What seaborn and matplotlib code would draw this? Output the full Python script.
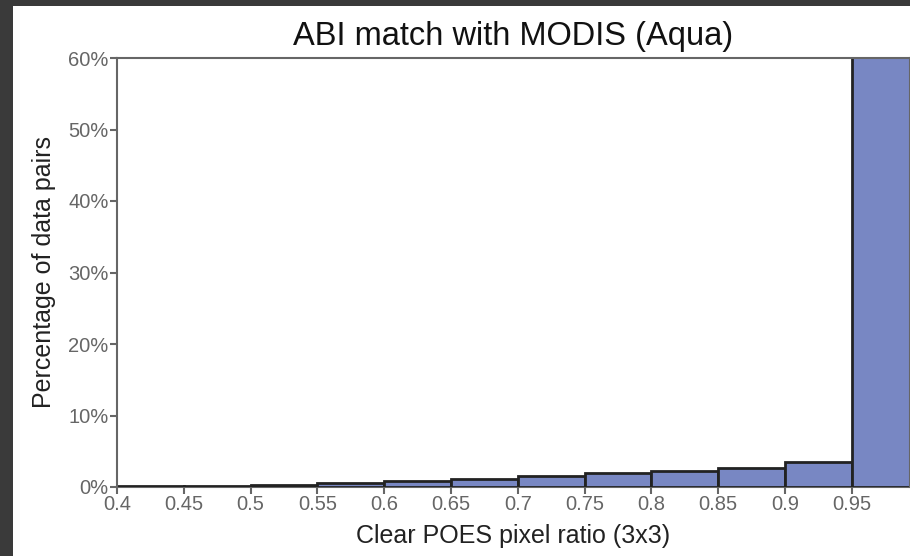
import matplotlib
matplotlib.use("Agg")
import matplotlib.pyplot as plt
import seaborn as sns
import numpy as np
from matplotlib.ticker import FuncFormatter
from matplotlib.patches import Rectangle

# Data
bin_edges = [0.40, 0.45, 0.50, 0.55, 0.60, 0.65, 0.70, 0.75, 0.80, 0.85, 0.90, 0.95, 1.00]
percent = [0.1, 0.15, 0.25, 0.6, 0.9, 1.15, 1.5, 1.9, 2.2, 2.7, 3.5, 84.0]
x_ticks = [0.4, 0.45, 0.5, 0.55, 0.6, 0.65, 0.7, 0.75, 0.8, 0.85, 0.9, 0.95]
x_tick_labels = ["0.4", "0.45", "0.5", "0.55", "0.6", "0.65", "0.7", "0.75", "0.8", "0.85", "0.9", "0.95"]
y_ticks = [0, 10, 20, 30, 40, 50, 60]

sns.set_theme(style="white")
plt.rcParams['font.family'] = ['Liberation Sans', 'DejaVu Sans']

fig = plt.figure(figsize=(9.10, 5.56), dpi=100)
fig.patch.set_facecolor("white")
ax = fig.add_axes([117/910, 1 - 487/556, 1 - 117/910, (487 - 58)/556])

centers = [(bin_edges[i] + bin_edges[i + 1]) / 2 for i in range(len(percent))]
sns.histplot(x=centers, weights=percent, bins=bin_edges, ax=ax,
             color="#7887C3", alpha=1.0, edgecolor="#222222", linewidth=2.0)

ax.set_xlim(0.4, 0.9936)
ax.set_ylim(0, 60)
ax.set_xticks(x_ticks)
ax.set_xticklabels(x_tick_labels)
ax.set_yticks(y_ticks)
ax.yaxis.set_major_formatter(FuncFormatter(lambda v, p: f"{int(v)}%"))

gray = "#666666"
for s in ["left", "top", "bottom", "right"]:
    ax.spines[s].set_color(gray)
    ax.spines[s].set_linewidth(1.5)
ax.spines["bottom"].set_zorder(0)

ax.tick_params(axis="both", direction="out", length=5, width=1.5, color=gray,
               labelcolor=gray, labelsize=14.5, pad=1, left=True, bottom=True)

ax.set_xlabel("Clear POES pixel ratio (3x3)", fontsize=18, color="#222222", labelpad=7)
ax.set_ylabel("Percentage of data pairs", fontsize=18, color="#222222", labelpad=9)
ax.set_title("ABI match with MODIS (Aqua)", fontsize=23.5, color="#111111", pad=9)

# dark frame on top and left edges
fig.patches.append(Rectangle((0, 1 - 6/556), 1, 6/556, transform=fig.transFigure,
                             facecolor="#3a3a3a", edgecolor="none", zorder=10))
fig.patches.append(Rectangle((0, 0), 13/910, 1, transform=fig.transFigure,
                             facecolor="#3a3a3a", edgecolor="none", zorder=10))

fig.savefig("out.png", dpi=100)
